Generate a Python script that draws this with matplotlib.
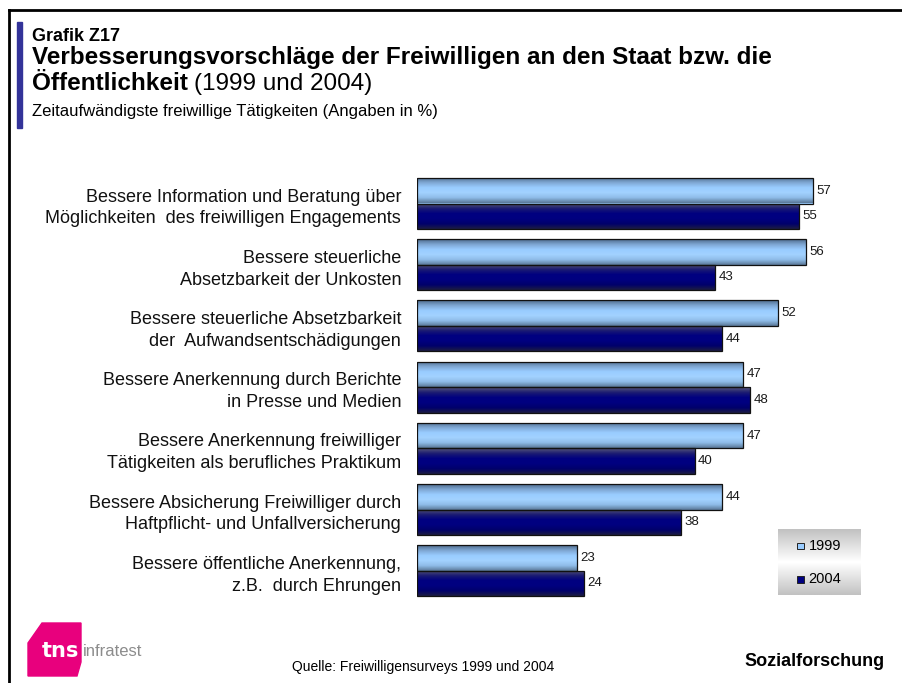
import numpy as np
import matplotlib
matplotlib.use('Agg')
import matplotlib.pyplot as plt
from matplotlib.colors import LinearSegmentedColormap
from matplotlib.patches import Polygon, Rectangle

plt.rcParams['font.family'] = ['Liberation Sans', 'DejaVu Sans']

# Daten
kategorien = [
    "Bessere Information und Beratung über\nMöglichkeiten  des freiwilligen Engagements",
    "Bessere steuerliche\nAbsetzbarkeit der Unkosten",
    "Bessere steuerliche Absetzbarkeit\nder  Aufwandsentschädigungen",
    "Bessere Anerkennung durch Berichte\nin Presse und Medien",
    "Bessere Anerkennung freiwilliger\nTätigkeiten als berufliches Praktikum",
    "Bessere Absicherung Freiwilliger durch\nHaftpflicht- und Unfallversicherung",
    "Bessere öffentliche Anerkennung,\nz.B.  durch Ehrungen",
]
werte_1999 = [57, 56, 52, 47, 47, 44, 23]
werte_2004 = [55, 43, 44, 48, 40, 38, 24]
jahre = ["1999", "2004"]

W, H = 902, 683
fig = plt.figure(figsize=(W / 100, H / 100), dpi=100)


def fx(x):
    return x / W


def fy(y):
    return 1 - y / H


# Rahmen oben und links
fig.add_artist(plt.Line2D([fx(9), fx(W)], [fy(10), fy(10)], color='black', lw=2, transform=fig.transFigure))
fig.add_artist(plt.Line2D([fx(9), fx(9)], [fy(10), fy(H)], color='black', lw=2, transform=fig.transFigure))
# Akzentbalken links neben dem Titel
fig.add_artist(Rectangle((fx(17), fy(128)), fx(5), (128 - 22) / H, color='#333399', transform=fig.transFigure))

# Titel
fig.text(fx(32), fy(41), "Grafik Z17", fontsize=13, fontweight='bold', va='baseline')
fig.text(fx(32), fy(64), "Verbesserungsvorschläge der Freiwilligen an den Staat bzw. die",
         fontsize=17.5, fontweight='bold', va='baseline')
t1 = fig.text(fx(32), fy(90), "Öffentlichkeit", fontsize=17.5, fontweight='bold', va='baseline')
fig.canvas.draw()
bb = t1.get_window_extent(fig.canvas.get_renderer())
fig.text(bb.x1 / W + fx(6), fy(90), "(1999 und 2004)", fontsize=17.5, va='baseline')
fig.text(fx(32), fy(116), "Zeitaufwändigste freiwillige Tätigkeiten (Angaben in %)", fontsize=12, va='baseline')

# Balkendiagramm
px_per_unit = 6.94
ax_left, ax_top, ax_bottom = 417, 170, 605
xmax = 65
ax = fig.add_axes([fx(ax_left), fy(ax_bottom), xmax * px_per_unit / W, (ax_bottom - ax_top) / H])
pitch = 61.2
ylim = ((ax_bottom - 203.5) / pitch, -(203.5 - ax_top) / pitch)

pos = np.arange(len(kategorien))
h = 25.5 / pitch
b1 = ax.barh(pos - h / 2, werte_1999, height=h, color='#99ccff', lw=0, zorder=2)
b2 = ax.barh(pos + h / 2, werte_2004, height=h, color='#000080', lw=0, zorder=2)

# Verlauf in den Balken
cmap1 = LinearSegmentedColormap.from_list('c1', ['#4f6c8c', '#7ea6d2', '#99ccff', '#a2d2ff', '#8fbce8', '#5a7898'])
cmap2 = LinearSegmentedColormap.from_list('c2', ['#58587a', '#1c1c72', '#000080', '#000080', '#00006c', '#1c1c44'])
grad = np.linspace(0, 1, 64).reshape(-1, 1)
for bars, cm in [(b1, cmap1), (b2, cmap2)]:
    for p in bars:
        x0, y0 = p.get_x(), p.get_y()
        im = ax.imshow(grad, cmap=cm, aspect='auto', extent=[x0, x0 + p.get_width(), y0 + p.get_height(), y0],
                       zorder=2.5, interpolation='bilinear')
        im.set_clip_path(p)
        ax.add_patch(Rectangle((x0, y0), p.get_width(), p.get_height(), fill=False, ec='#111111', lw=0.9, zorder=3))

for bars, vals in [(b1, werte_1999), (b2, werte_2004)]:
    for p, v in zip(bars, vals):
        ax.annotate(str(v), (p.get_width(), p.get_y() + p.get_height() / 2), xytext=(2.5, 0),
                    textcoords='offset points', va='center', ha='left', fontsize=9.5, color='#1a1a1a')

ax.set_xlim(0, xmax)
ax.set_ylim(*ylim)
ax.set_yticks(pos)
ax.set_yticklabels(kategorien, fontsize=13, linespacing=1.37, ha='right', color='#111111')
ax.tick_params(axis='y', length=0, pad=11.5)
ax.set_xticks([])
for s in ax.spines.values():
    s.set_visible(False)

# Legende
lax = fig.add_axes([fx(778), fy(595), fx(861 - 778), (595 - 529) / H])
lgrad = np.concatenate([np.linspace(0, 1, 32), np.linspace(1, 0, 32)]).reshape(-1, 1)
lcm = LinearSegmentedColormap.from_list('lg', ['#c2c2c2', '#ffffff'])
lax.imshow(lgrad, cmap=lcm, aspect='auto', extent=[0, 1, 0, 1], interpolation='bilinear')
lax.set_xlim(0, 1)
lax.set_ylim(0, 1)
lax.axis('off')
for jahr, col, yy in [(jahre[0], '#99ccff', 0.745), (jahre[1], '#000080', 0.235)]:
    lax.add_patch(Rectangle((0.225, yy - 0.05), 0.085, 0.1, fc=col, ec='#222222', lw=0.7))
    lax.text(0.37, yy, jahr, va='center', ha='left', fontsize=10.5)

# Logo
logo = Polygon([(fx(28), fy(643)), (fx(42), fy(623)), (fx(81), fy(623)), (fx(81), fy(662)),
                (fx(77), fy(676)), (fx(28), fy(676))], closed=True, color='#e8007d', transform=fig.transFigure)
fig.add_artist(logo)
fig.text(fx(42), fy(657), "tns", color='white', fontsize=15, fontweight='bold', va='baseline',
         family=['DejaVu Sans'])
fig.text(fx(83), fy(656), "infratest", color='#8c8c8c', fontsize=12, va='baseline',
         family=['Liberation Sans Narrow', 'Liberation Sans'])

# Fußzeile
fig.text(fx(292), fy(671), "Quelle: Freiwilligensurveys 1999 und 2004", fontsize=10, ha='left', va='baseline',
         family=['Liberation Sans Narrow', 'Liberation Sans'])
fig.text(fx(885), fy(666), "Sozialforschung", fontsize=13, fontweight='bold', ha='right', va='baseline')

fig.savefig('out.png', dpi=100)
